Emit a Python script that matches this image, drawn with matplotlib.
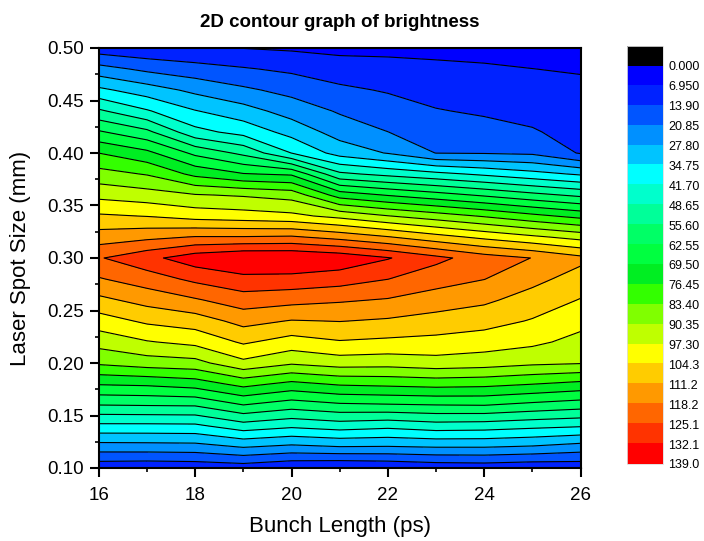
import numpy as np
import matplotlib.pyplot as plt
from matplotlib.ticker import MultipleLocator, FormatStrFormatter

plt.rcParams['font.family'] = ['Liberation Sans', 'DejaVu Sans']

# grid: bunch length (ps) x laser spot size (mm)
bunch_length = [16, 17, 18, 19, 20, 21, 22, 23, 24, 25, 26]
spot_size = [0.10, 0.12, 0.14, 0.16, 0.18, 0.20, 0.22, 0.24, 0.26, 0.28, 0.30,
             0.32, 0.34, 0.36, 0.38, 0.40, 0.42, 0.44, 0.46, 0.48, 0.50]

# one row per spot size, one value per bunch length
brightness = [
    [9.0, 8.5, 9.0, 10.0, 7.5, 6.5, 7.4, 9.0, 9.5, 8.5, 9.0],
    [24.5, 24.7, 25.0, 28.1, 26.1, 27.5, 27.3, 28.0, 28.0, 27.0, 24.7],
    [40.0, 40.0, 40.2, 45.6, 43.0, 45.0, 43.5, 45.5, 45.0, 43.5, 42.3],
    [55.6, 56.0, 56.3, 62.5, 58.8, 61.3, 61.9, 62.5, 62.8, 60.7, 58.8],
    [70.0, 70.7, 72.7, 78.7, 74.5, 77.3, 78.1, 79.0, 78.4, 76.6, 74.5],
    [84.5, 86.9, 88.0, 95.6, 91.3, 93.6, 93.1, 94.5, 93.6, 91.7, 90.8],
    [93.0, 96.8, 99.2, 105.2, 101.3, 103.7, 102.8, 102.2, 100.7, 98.8, 95.1],
    [101.0, 105.5, 107.7, 113.5, 110.8, 111.4, 110.3, 108.4, 106.9, 103.7, 99.5],
    [109.5, 113.7, 117.4, 121.8, 120.4, 119.0, 117.6, 115.0, 112.5, 108.3, 103.9],
    [117.6, 121.7, 126.7, 130.1, 129.8, 128.3, 125.2, 121.0, 118.3, 113.2, 108.3],
    [124.5, 130.0, 136.0, 139.0, 139.0, 137.0, 132.5, 127.0, 121.5, 118.0, 113.0],
    [114.5, 116.4, 118.5, 118.5, 119.0, 115.7, 111.6, 106.8, 102.5, 98.6, 94.8],
    [105.2, 104.0, 101.5, 100.4, 99.0, 95.3, 90.6, 86.7, 82.7, 78.3, 74.3],
    [95.3, 93.4, 90.8, 89.6, 87.6, 73.3, 69.0, 65.3, 61.5, 57.6, 54.1],
    [86.0, 82.9, 74.6, 69.9, 68.5, 50.1, 46.7, 43.6, 40.4, 37.1, 33.8],
    [76.4, 71.3, 60.9, 53.9, 41.6, 32.0, 27.4, 20.7, 20.4, 19.7, 13.3],
    [63.4, 57.3, 43.9, 39.3, 32.3, 24.9, 20.9, 17.6, 16.4, 14.5, 11.5],
    [49.8, 42.4, 35.1, 30.6, 24.9, 20.1, 17.1, 14.3, 13.0, 11.8, 9.9],
    [36.3, 31.1, 26.1, 22.1, 18.7, 15.2, 13.3, 11.3, 10.3, 9.4, 8.5],
    [23.5, 19.3, 16.7, 14.5, 12.6, 10.4, 9.3, 8.3, 7.7, 7.0, 6.4],
    [10.0, 8.3, 7.4, 6.8, 6.0, 5.0, 5.2, 5.2, 5.0, 4.6, 4.0],
]

levels = [0.0, 6.95, 13.9, 20.85, 27.8, 34.75, 41.7, 48.65, 55.6, 62.55, 69.5,
          76.45, 83.4, 90.35, 97.3, 104.25, 111.2, 118.15, 125.1, 132.05, 139.0]
level_labels = ['0.000', '6.950', '13.90', '20.85', '27.80', '34.75', '41.70',
                '48.65', '55.60', '62.55', '69.50', '76.45', '83.40', '90.35',
                '97.30', '104.3', '111.2', '118.2', '125.1', '132.1', '139.0']

# first colour is the "below" box shown on top of the colour bar
band_colors = ['#000000',
               '#0000ff', '#0022ff', '#0055ff', '#0090ff', '#00c4ff',
               '#00ffff', '#00ffcc', '#00ff99', '#00ff66', '#00ff40',
               '#00ee22', '#33ff00', '#80ff00', '#bfff00', '#ffff00',
               '#ffcc00', '#ff9900', '#ff6600', '#ff3300', '#ff0000']

X, Y = np.meshgrid(bunch_length, spot_size)
Z = np.array(brightness)

fig = plt.figure(figsize=(7.04, 5.41), dpi=100)
ax = fig.add_axes([98.8 / 704, 73 / 541, 481.8 / 704, 420 / 541])

cf = ax.contourf(X, Y, Z, levels=levels, colors=band_colors, extend='min')
ax.contour(X, Y, Z, levels=levels, colors='black', linewidths=0.8)

ax.set_xlim(16, 26)
ax.set_ylim(0.10, 0.50)
ax.xaxis.set_major_locator(MultipleLocator(2))
ax.xaxis.set_minor_locator(MultipleLocator(1))
ax.yaxis.set_major_locator(MultipleLocator(0.05))
ax.yaxis.set_minor_locator(MultipleLocator(0.025))
ax.yaxis.set_major_formatter(FormatStrFormatter('%.2f'))
ax.tick_params(which='major', direction='out', length=6.5, width=1.5, labelsize=13.5)
ax.tick_params(axis='x', which='major', pad=7)
ax.tick_params(axis='y', which='major', pad=4)
ax.tick_params(which='minor', direction='out', length=3, width=1.2)
for sp in ax.spines.values():
    sp.set_linewidth(1.5)

ax.set_xlabel('Bunch Length (ps)', fontsize=16, labelpad=9)
ax.set_ylabel('Laser Spot Size (mm)', fontsize=16, labelpad=12)
ax.set_title('2D contour graph of brightness', fontsize=13.5, fontweight='bold', pad=15)

cax = fig.add_axes([627 / 704, 77 / 541, 36 / 704, 418 / 541])
cb = fig.colorbar(cf, cax=cax, ticks=levels, extendrect=True, extendfrac='auto')
cax.invert_yaxis()
cb.set_ticklabels(level_labels)
cax.tick_params(length=0, labelsize=9, pad=4)
cb.outline.set_edgecolor('#dddddd')
cb.outline.set_linewidth(0.6)
cb.solids.set_edgecolor('face')

fig.savefig('out.png', dpi=100)
